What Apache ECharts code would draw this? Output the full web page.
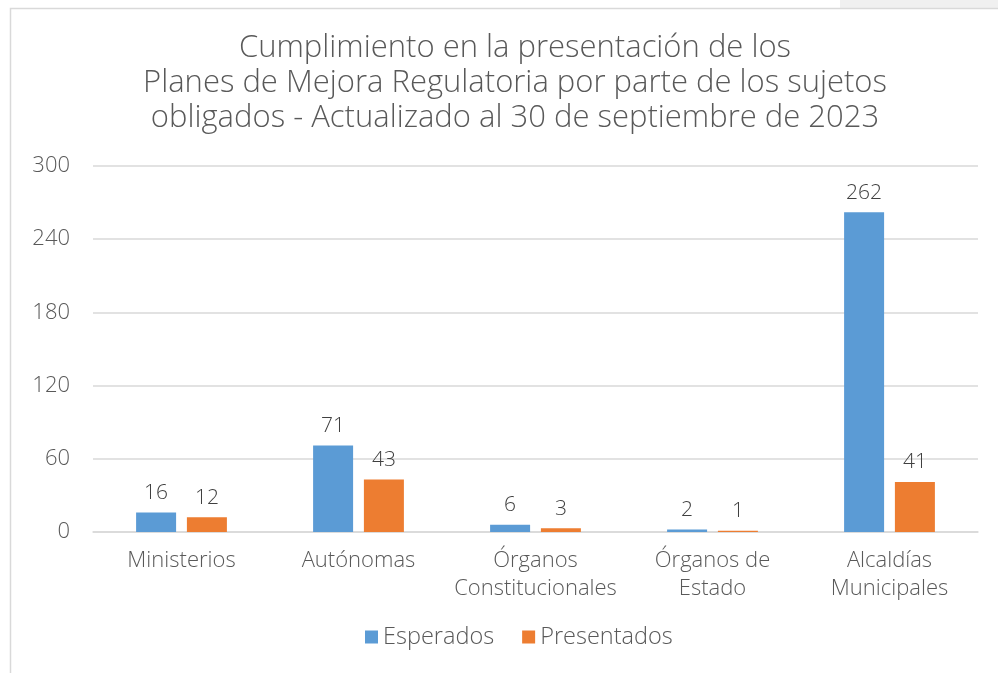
<!DOCTYPE html>
<html>
<head>
<meta charset="utf-8">
<script src="https://cdn.jsdelivr.net/npm/echarts@6/dist/echarts.min.js"></script>
<style>
  html, body { margin: 0; padding: 0; background: #fff; }
  #chart { width: 998px; height: 673px; }
</style>
</head>
<body>
<div id="chart"></div>
<script>
// Chart data
const categories = [
  "Ministerios",
  "Autónomas",
  "Órganos\nConstitucionales",
  "Órganos de\nEstado",
  "Alcaldías\nMunicipales",
];
const esperados = [16, 71, 6, 2, 262];
const presentados = [12, 43, 3, 1, 41];
const seriesNames = ["Esperados", "Presentados"];

const titleText =
  "Cumplimiento en la presentación de los\nPlanes de Mejora Regulatoria por parte de los sujetos\nobligados - Actualizado al 30 de septiembre de 2023";

const fontFamily = "'Open Sans', Lato, sans-serif";
const textColor = "#595959";

const myChart = echarts.init(document.getElementById("chart"));

const labelStyle = {
  show: true,
  position: "top",
  distance: 9,
  color: "#404040",
  fontSize: 21,
  fontFamily: fontFamily,
  fontWeight: 300,
};

const option = {
  backgroundColor: "#fff",
  animation: false,
  textStyle: { fontFamily: fontFamily },
  graphic: [
    {
      type: "rect",
      shape: { x: 840, y: 0, width: 158, height: 8 },
      style: { fill: "#f0f0f0" },
      silent: true,
    },
    {
      type: "rect",
      shape: { x: 10.5, y: 8.5, width: 1000, height: 700 },
      style: { fill: "none", stroke: "#d9d9d9", lineWidth: 1.5 },
      silent: true,
    },
  ],
  title: {
    text: titleText,
    left: 510,
    textAlign: "center",
    top: 26,
    textStyle: {
      fontSize: 31,
      fontWeight: 300,
      color: textColor,
      lineHeight: 35,
      fontFamily: fontFamily,
    },
  },
  legend: {
    data: seriesNames,
    bottom: 19,
    left: 360,
    itemWidth: 13,
    itemHeight: 13,
    itemGap: 28,
    icon: "rect",
    textStyle: {
      fontSize: 23.5,
      color: textColor,
      fontWeight: 300,
      fontFamily: fontFamily,
    },
  },
  grid: {
    left: 93,
    right: 20,
    top: 166,
    bottom: 141,
    containLabel: false,
  },
  xAxis: {
    type: "category",
    data: categories,
    axisLine: { lineStyle: { color: "#d9d9d9", width: 1.5 } },
    axisTick: { show: false },
    axisLabel: {
      interval: 0,
      color: textColor,
      fontSize: 22,
      fontWeight: 300,
      lineHeight: 28,
      margin: 15,
      fontFamily: fontFamily,
    },
  },
  yAxis: {
    type: "value",
    min: 0,
    max: 300,
    interval: 60,
    axisLine: { show: false },
    axisTick: { show: false },
    splitLine: { lineStyle: { color: "#d9d9d9", width: 1.5 } },
    axisLabel: {
      color: textColor,
      fontSize: 22,
      fontWeight: 300,
      margin: 23,
      fontFamily: fontFamily,
    },
  },
  series: [
    {
      name: seriesNames[0],
      type: "bar",
      data: esperados,
      barWidth: 40,
      barGap: "27%",
      itemStyle: { color: "#5B9BD5" },
      label: labelStyle,
    },
    {
      name: seriesNames[1],
      type: "bar",
      data: presentados,
      barWidth: 40,
      itemStyle: { color: "#ED7D31" },
      label: labelStyle,
    },
  ],
};

myChart.setOption(option);
</script>
</body>
</html>
